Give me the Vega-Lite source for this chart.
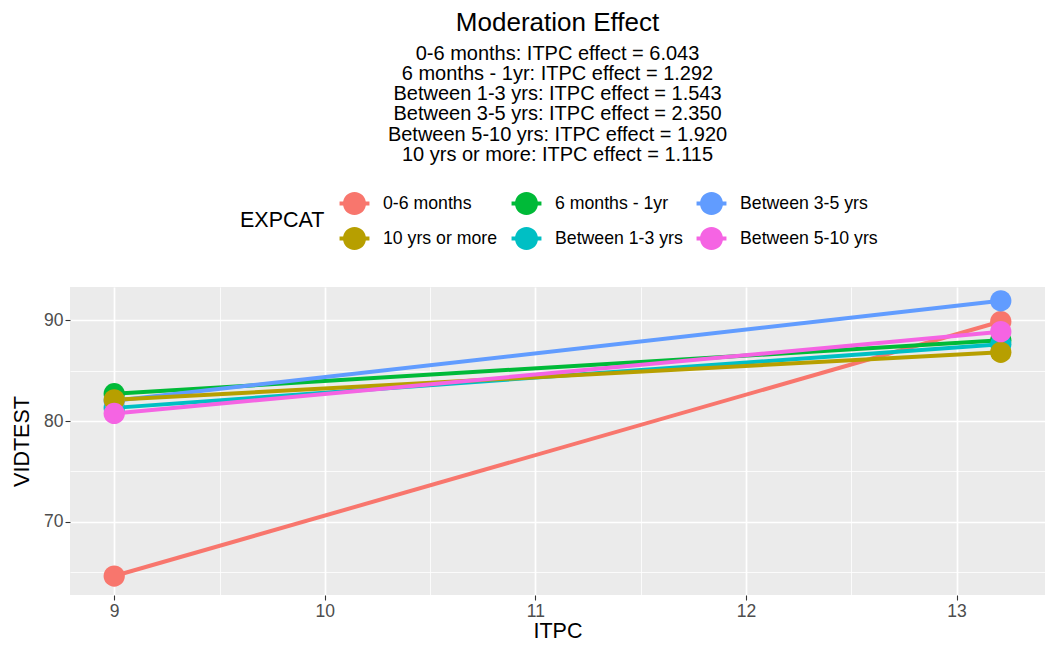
{
  "$schema": "https://vega.github.io/schema/vega-lite/v6.json",
  "width": 975,
  "height": 308,
  "autosize": {"type": "none"},
  "padding": {"left": 70, "top": 287, "right": 0, "bottom": 50},
  "background": "white",
  "title": {
    "text": "Moderation Effect",
    "subtitle": [
      "0-6 months: ITPC effect = 6.043",
      "6 months - 1yr: ITPC effect = 1.292",
      "Between 1-3 yrs: ITPC effect = 1.543",
      "Between 3-5 yrs: ITPC effect = 2.350",
      "Between 5-10 yrs: ITPC effect = 1.920",
      "10 yrs or more: ITPC effect = 1.115"
    ],
    "anchor": "middle",
    "frame": "group",
    "font": "Liberation Sans",
    "fontSize": 26,
    "fontWeight": "normal",
    "color": "black",
    "subtitleFont": "Liberation Sans",
    "subtitleFontSize": 20,
    "subtitleColor": "black",
    "subtitleLineHeight": 20.3,
    "subtitlePadding": 8,
    "offset": 27
  },
  "config": {
    "view": {"fill": "#EBEBEB", "stroke": null},
    "axis": {
      "domain": false,
      "gridColor": "white",
      "tickColor": "#333333",
      "tickSize": 5,
      "tickWidth": 1.1,
      "labelColor": "#4D4D4D",
      "labelFont": "Liberation Sans",
      "labelFontSize": 17.5,
      "titleFont": "Liberation Sans",
      "titleFontSize": 21.5,
      "titleFontWeight": "normal",
      "titleColor": "black"
    },
    "legend": {
      "titleFont": "Liberation Sans",
      "labelFont": "Liberation Sans"
    }
  },
  "data": {
    "values": [
      {"EXPCAT": "0-6 months", "ITPC": 9, "VIDTEST": 64.65},
      {"EXPCAT": "0-6 months", "ITPC": 13.21, "VIDTEST": 89.85},
      {"EXPCAT": "6 months - 1yr", "ITPC": 9, "VIDTEST": 82.7},
      {"EXPCAT": "6 months - 1yr", "ITPC": 13.21, "VIDTEST": 88.0},
      {"EXPCAT": "Between 1-3 yrs", "ITPC": 9, "VIDTEST": 81.3},
      {"EXPCAT": "Between 1-3 yrs", "ITPC": 13.21, "VIDTEST": 87.6},
      {"EXPCAT": "Between 3-5 yrs", "ITPC": 9, "VIDTEST": 82.0},
      {"EXPCAT": "Between 3-5 yrs", "ITPC": 13.21, "VIDTEST": 91.9},
      {"EXPCAT": "10 yrs or more", "ITPC": 9, "VIDTEST": 82.1},
      {"EXPCAT": "10 yrs or more", "ITPC": 13.21, "VIDTEST": 86.8},
      {"EXPCAT": "Between 5-10 yrs", "ITPC": 9, "VIDTEST": 80.75},
      {"EXPCAT": "Between 5-10 yrs", "ITPC": 13.21, "VIDTEST": 88.85}
    ]
  },
  "encoding": {
    "x": {
      "field": "ITPC",
      "type": "quantitative",
      "scale": {"domain": [8.79, 13.42], "nice": false, "zero": false},
      "axis": {
        "title": "ITPC",
        "values": [9, 9.5, 10, 10.5, 11, 11.5, 12, 12.5, 13],
        "labelExpr": "datum.value % 1 === 0 ? format(datum.value, 'd') : ''",
        "gridWidth": {"condition": {"test": "datum.value % 1 !== 0", "value": 0.8}, "value": 1.7},
        "tickOpacity": {"condition": {"test": "datum.value % 1 !== 0", "value": 0}, "value": 1},
        "labelPadding": 2,
        "titlePadding": 1
      }
    },
    "y": {
      "field": "VIDTEST",
      "type": "quantitative",
      "scale": {"domain": [62.77, 93.27], "nice": false, "zero": false},
      "axis": {
        "title": "VIDTEST",
        "values": [65, 70, 75, 80, 85, 90],
        "labelExpr": "datum.value % 10 === 0 ? format(datum.value, 'd') : ''",
        "gridWidth": {"condition": {"test": "datum.value % 10 !== 0", "value": 0.8}, "value": 1.7},
        "tickOpacity": {"condition": {"test": "datum.value % 10 !== 0", "value": 0}, "value": 1},
        "labelPadding": 2,
        "titlePadding": 10
      }
    },
    "color": {
      "field": "EXPCAT",
      "type": "nominal",
      "scale": {
        "domain": ["0-6 months", "6 months - 1yr", "Between 3-5 yrs", "10 yrs or more", "Between 1-3 yrs", "Between 5-10 yrs"],
        "range": ["#F8766D", "#00BA38", "#619CFF", "#B79F00", "#00BFC4", "#F564E3"]
      },
      "legend": {
        "title": "EXPCAT",
        "orient": "none",
        "legendX": 170,
        "legendY": -95,
        "direction": "horizontal",
        "columns": 3,
        "titleOrient": "left",
        "titleAnchor": "middle",
        "titleBaseline": "middle",
        "titleFontSize": 21.5,
        "titleFontWeight": "normal",
        "titleColor": "black",
        "titlePadding": 18,
        "labelFontSize": 17.7,
        "labelColor": "black",
        "symbolType": "M-1,0A1,1,0,1,1,1,0A1,1,0,1,1,-1,0ZM-1.3,-0.17L1.3,-0.17L1.3,0.17L-1.3,0.17Z",
        "symbolSize": 529,
        "symbolOpacity": 1,
        "symbolStrokeWidth": 0,
        "labelOffset": 17,
        "columnPadding": 13,
        "rowPadding": 12,
        "padding": 0
      }
    }
  },
  "layer": [
    {
      "mark": {"type": "line", "strokeWidth": 4},
      "encoding": {"detail": {"field": "EXPCAT"}}
    },
    {
      "mark": {"type": "circle", "size": 452, "opacity": 1}
    }
  ]
}
